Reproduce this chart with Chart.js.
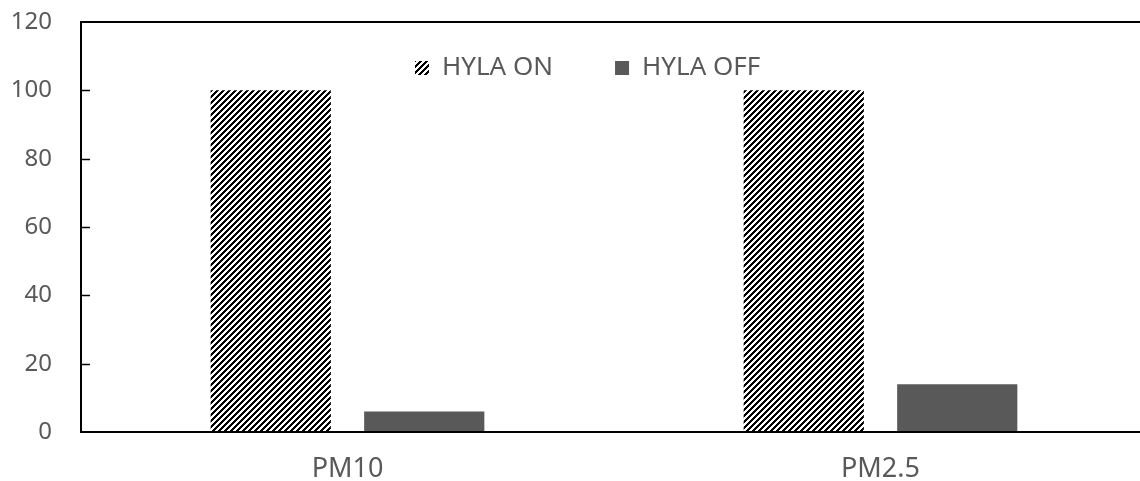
<!DOCTYPE html>
<html>
<head>
<meta charset="utf-8">
<script src="https://cdn.jsdelivr.net/npm/chart.js@4"></script>
<style>
  html, body { margin: 0; padding: 0; background: #fff; overflow: hidden; }
  #wrap { width: 1150px; height: 481px; }
</style>
</head>
<body>
<div id="wrap"><canvas id="chart" width="1150" height="481"></canvas></div>
<script>
const categories = ["PM10", "PM2.5"];
const seriesNames = ["HYLA ON", "HYLA OFF"];
const hylaOn = [100, 100];
const hylaOff = [6, 14];
const yMin = 0;
const yMax = 120;
const yStep = 20;

const textColor = "#595959";

// black/white upward diagonal hatch, like the Excel fill
function makeHatch() {
    const size = 6;
    const c = document.createElement("canvas");
    c.width = size;
    c.height = size;
    const g = c.getContext("2d");
    g.fillStyle = "#fff";
    g.fillRect(0, 0, size, size);
    g.fillStyle = "#000";
    for (let y = 0; y < size; y++) {
        for (let x = 0; x < size; x++) {
            if ((x + y) % size < size / 2) g.fillRect(x, y, 1, 1);
        }
    }
    return g.createPattern(c, "repeat");
}

// one-row legend inside the plot area (built-in chartArea legend stacks vertically)
const innerLegend = {
    id: "innerLegend",
    afterDraw(chart) {
        const ctx = chart.ctx;
        const box = 14;
        const fontSize = 26;
        let x = 415;
        const yMid = 68;
        ctx.save();
        ctx.font = fontSize + "px 'Noto Sans'";
        ctx.textBaseline = "middle";
        ctx.textAlign = "left";
        chart.data.datasets.forEach((ds) => {
            ctx.fillStyle = ds.backgroundColor;
            ctx.fillRect(x, yMid - box / 2, box, box);
            const tx = x + box + fontSize / 2;
            ctx.fillStyle = textColor;
            ctx.fillText(ds.label, tx, yMid);
            x = tx + ctx.measureText(ds.label).width + 62;
        });
        ctx.restore();
    }
};

// inward tick marks on the value axis
const innerTicks = {
    id: "innerTicks",
    afterDraw(chart) {
        const y = chart.scales.y;
        const ctx = chart.ctx;
        const left = chart.chartArea.left;
        ctx.save();
        ctx.strokeStyle = "#000";
        ctx.lineWidth = 1.5;
        y.ticks.forEach((t) => {
            if (t.value === yMin || t.value === yMax) return;
            const py = Math.round(y.getPixelForValue(t.value)) + 0.5;
            ctx.beginPath();
            ctx.moveTo(left, py);
            ctx.lineTo(left + 9, py);
            ctx.stroke();
        });
        ctx.restore();
    }
};

const ctx = document.getElementById("chart").getContext("2d");

new Chart(ctx, {
    type: "bar",
    data: {
        labels: categories,
        datasets: [
            {
                label: seriesNames[0],
                data: hylaOn,
                backgroundColor: makeHatch(),
                borderWidth: 0,
                categoryPercentage: 0.576,
                barPercentage: 0.783,
            },
            {
                label: seriesNames[1],
                data: hylaOff,
                backgroundColor: "#595959",
                borderWidth: 0,
                categoryPercentage: 0.576,
                barPercentage: 0.783,
            },
        ],
    },
    options: {
        responsive: false,
        animation: false,
        devicePixelRatio: 1,
        layout: { padding: { top: 22, right: 3, bottom: 0, left: 0 } },
        plugins: {
            tooltip: { enabled: false },
            legend: { display: false },
        },
        scales: {
            x: {
                grid: { display: false },
                border: { display: true, color: "#000", width: 2 },
                ticks: {
                    color: textColor,
                    padding: 13,
                    font: { family: "Noto Sans", size: 27 },
                },
                afterFit(scale) {
                    scale.height = 49;
                },
            },
            y: {
                min: yMin,
                max: yMax,
                grid: {
                    drawTicks: true,
                    tickLength: 29,
                    tickColor: "rgba(0,0,0,0)",
                    lineWidth: 2,
                    color: (c) => (c.tick && c.tick.value === yMax ? "#000" : "rgba(0,0,0,0)"),
                },
                border: { display: true, color: "#000", width: 2 },
                ticks: {
                    stepSize: yStep,
                    color: textColor,
                    padding: 0,
                    font: { family: "Noto Sans", size: 24 },
                },
                afterFit(scale) {
                    scale.width = 81;
                },
            },
        },
    },
    plugins: [innerLegend, innerTicks],
});
</script>
</body>
</html>
